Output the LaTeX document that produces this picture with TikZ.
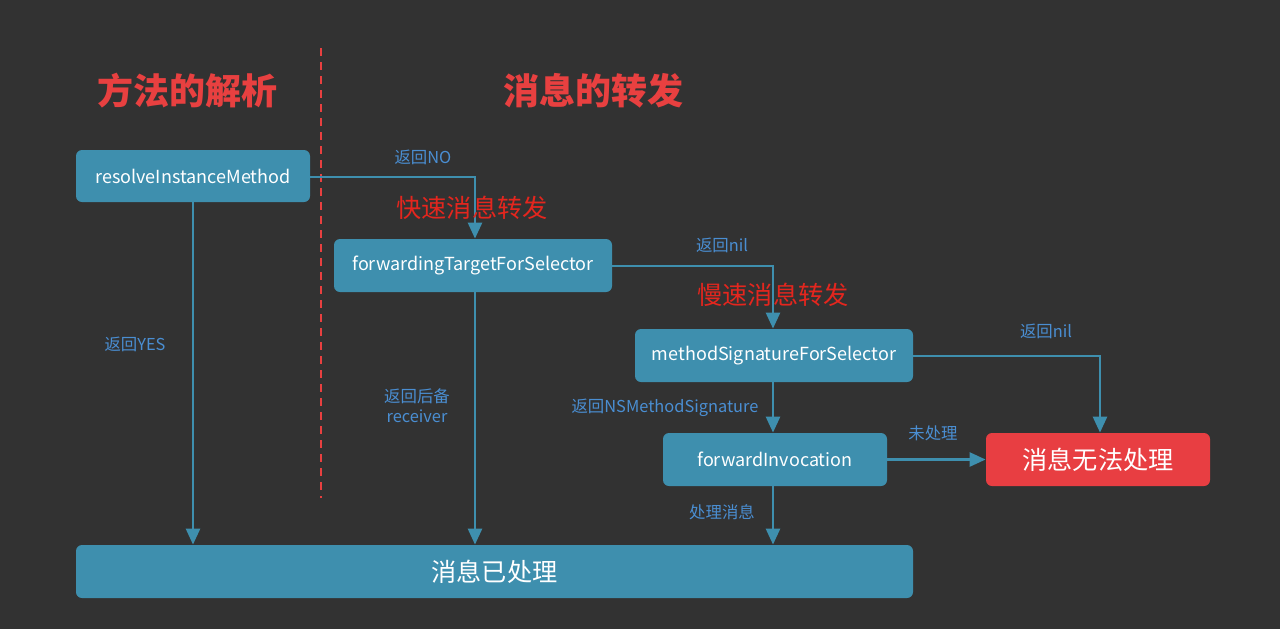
\documentclass[tikz,border=0pt]{standalone}
\usepackage{fontspec}
\setmainfont{Noto Sans CJK SC}
\usetikzlibrary{arrows.meta}
\definecolor{bgc}{RGB}{50,50,50}
\definecolor{boxc}{RGB}{62,143,174}
\definecolor{redbox}{RGB}{232,62,66}
\definecolor{titlered}{RGB}{232,64,64}
\definecolor{notered}{RGB}{228,38,30}
\definecolor{lblc}{RGB}{74,142,210}
\tikzset{
  stepbox/.style={fill=boxc, rounded corners=3pt, text=white, font=\fontsize{9}{11}\selectfont, inner sep=0pt},
  endbox/.style={fill=redbox, rounded corners=3pt, text=white, font=\fontsize{12.6}{14}\selectfont, inner sep=0pt},
  flow/.style={draw=boxc, line width=1.3pt, -{Triangle[length=8pt,width=7pt]}},
  lbl/.style={text=lblc, font=\fontsize{8.2}{10}\selectfont, inner sep=0pt, align=center},
  phase/.style={text=titlered, font=\fontsize{18}{20}\selectfont\bfseries, inner sep=0pt},
  note/.style={text=notered, font=\fontsize{12.6}{14}\selectfont, inner sep=0pt},
}
\begin{document}
\begin{tikzpicture}[x=0.5pt,y=-0.5pt]
  % canvas
  \fill[bgc] (0,0) rectangle (1280,629);
  \useasboundingbox (0,0) rectangle (1280,629);

  % divider between the two phases
  \draw[titlered, line width=1.3pt, dash pattern=on 4pt off 3pt] (321,48) -- (321,498);

  \node[phase] (t1) at (187,91) {方法的解析};
  \node[phase] (t2) at (593,91) {消息的转发};

  % method boxes
  \node[stepbox, minimum width=117pt, minimum height=26pt] (rim) at (193,176) {resolveInstanceMethod};
  \node[stepbox, minimum width=139pt, minimum height=26.5pt] (ftf) at (473,265.5) {forwardingTargetForSelector};
  \node[stepbox, minimum width=139pt, minimum height=26.5pt] (msf) at (774,355.5) {methodSignatureForSelector};
  \node[stepbox, minimum width=112pt, minimum height=26.5pt] (fwi) at (775,459.5) {forwardInvocation};
  \node[endbox, minimum width=112pt, minimum height=26.5pt] (fail) at (1098,459.5) {消息无法处理};
  \node[stepbox, font=\fontsize{12.6}{14}\selectfont, minimum width=418.5pt, minimum height=26.5pt] (done) at (494.5,571.5) {消息已处理};

  % connectors
  \coordinate (c1) at (475,177);
  \coordinate (c2) at (773,266);
  \coordinate (c3) at (1100,356);
  \draw[flow] (rim.east |- c1) -- (c1) -- (c1 |- ftf.north);
  \draw[flow] (ftf.east |- c2) -- (c2) -- (c2 |- msf.north);
  \draw[flow] (msf.east |- c3) -- (c3) -- (c3 |- fail.north);
  \draw[flow] (rim.south) -- (rim.south |- done.north);
  \draw[flow] (c1 |- ftf.south) -- (c1 |- done.north);
  \draw[flow] (c2 |- msf.south) -- (c2 |- fwi.north);
  \draw[flow] (fwi.east) -- (fail.west);
  \draw[flow] (c2 |- fwi.south) -- (c2 |- done.north);

  % connector labels
  \node[lbl] (l1) at (423,157) {返回NO};
  \node[lbl] (l2) at (135,344) {返回YES};
  \node[lbl] (l3) at (417,406) {返回后备\\receiver};
  \node[lbl] (l4) at (722,245) {返回nil};
  \node[lbl] (l5) at (1046,331) {返回nil};
  \node[lbl] (l6) at (665,408) {返回NSMethodSignature};
  \node[lbl] (l7) at (933,433) {未处理};
  \node[lbl] (l8) at (722,512) {处理消息};

  % stage notes
  \node[note] (n1) at (472,208) {快速消息转发};
  \node[note] (n2) at (773,295) {慢速消息转发};
\end{tikzpicture}
\end{document}
